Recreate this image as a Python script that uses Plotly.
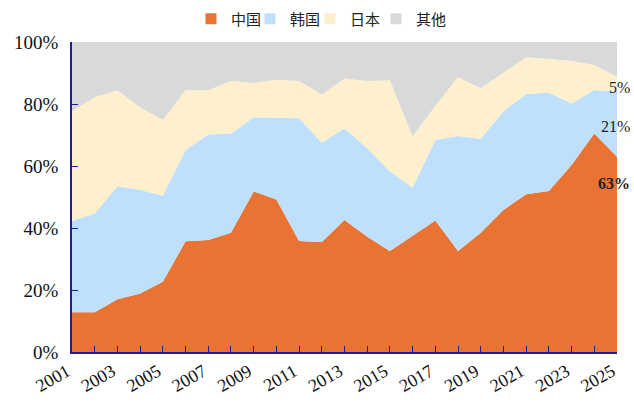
import plotly.graph_objects as go

years = list(range(2001, 2026))
china = [12.8, 12.8, 17.0, 18.9, 22.7, 35.7, 36.1, 38.5, 51.8, 49.2, 35.8, 35.5, 42.6,
         37.2, 32.6, 37.5, 42.4, 32.6, 38.5, 45.8, 50.9, 51.9, 60.3, 70.5, 63.0]
korea = [29.5, 31.9, 36.5, 33.4, 27.7, 29.5, 34.1, 32.0, 23.9, 26.4, 39.6, 32.0, 29.6,
         28.5, 25.6, 15.6, 26.0, 37.1, 30.3, 31.9, 32.3, 31.7, 19.9, 14.0, 21.0]
japan = [35.4, 37.5, 30.9, 26.6, 24.4, 19.2, 14.2, 16.9, 11.1, 12.2, 12.0, 15.6, 16.0,
         21.7, 29.5, 16.4, 11.0, 18.9, 16.3, 12.4, 11.9, 10.9, 13.7, 8.1, 4.8]
other = [round(100 - a - b - c, 1) for a, b, c in zip(china, korea, japan)]

series_names = ["中国", "韩国", "日本", "其他"]
series_vals = [china, korea, japan, other]
colors = ["#E97333", "#BEE0FC", "#FFF0CD", "#D9D9D9"]

y_ticks = [0, 20, 40, 60, 80, 100]
y_tick_text = [f"{v}%" for v in y_ticks]
end_labels = ["63%", "21%", "5%"]

serif = "Liberation Serif, Times New Roman, serif"
axis_col = "#1F1F9A"
legend_ids = ["legend", "legend2", "legend3", "legend4"]
legend_x = [0.2183, 0.3266, 0.4367, 0.5578]

fig = go.Figure()
for name, vals, col in zip(series_names, series_vals, colors):
    fig.add_trace(go.Scatter(
        x=years, y=vals, name=name, mode="lines", stackgroup="one",
        line=dict(width=0, color=col), fillcolor=col, showlegend=False,
    ))
# legend swatches (square markers, no data drawn)
for name, col, lid in zip(series_names, colors, legend_ids):
    fig.add_trace(go.Scatter(
        x=[None], y=[None], name=name, mode="markers", legend=lid,
        marker=dict(symbol="square", size=11, color=col), showlegend=True,
    ))

tick_text = [str(y) if (y - 2001) % 2 == 0 else "" for y in years]

legend_common = dict(orientation="h", xanchor="left", y=1.074, yanchor="middle",
                     font=dict(family="Noto Sans CJK SC", size=15, color="#222"),
                     itemwidth=30, bgcolor="rgba(0,0,0,0)")

fig.update_layout(
    width=634, height=403,
    margin=dict(l=72, r=17, t=42, b=51, autoexpand=False),
    paper_bgcolor="white", plot_bgcolor="white",
    showlegend=True,
    xaxis=dict(range=[2001, 2025], tickmode="array", tickvals=years, ticktext=tick_text,
               tickangle=-30, ticks="inside", ticklen=6, tickcolor=axis_col,
               showline=True, linecolor=axis_col, linewidth=2, showgrid=False,
               zeroline=False, automargin=False, ticklabelshift=-5,
               tickfont=dict(family=serif, size=18, color="#111")),
    yaxis=dict(range=[0, 100], tickmode="array", tickvals=y_ticks, ticktext=y_tick_text,
               ticks="inside", ticklen=6, tickcolor=axis_col, ticklabelstandoff=8,
               showline=True, linecolor=axis_col, linewidth=1.5, showgrid=False,
               zeroline=False, automargin=False,
               tickfont=dict(family=serif, size=19, color="#111")),
)
for lid, lx in zip(legend_ids, legend_x):
    fig.update_layout({lid: dict(x=lx, **legend_common)})

ann_y = [0.545, 0.729, 0.852]
for txt, yy, bold in zip(end_labels, ann_y, [True, False, False]):
    fig.add_annotation(xref="paper", yref="paper", x=1.0275, y=yy, xanchor="right",
                       yanchor="middle", showarrow=False,
                       text=f"<b>{txt}</b>" if bold else txt,
                       font=dict(family=serif, size=16, color="#222"))

fig.write_html("out.html", config={"displayModeBar": False},
               post_script="document.body.style.margin='0';document.body.style.padding='0';")
